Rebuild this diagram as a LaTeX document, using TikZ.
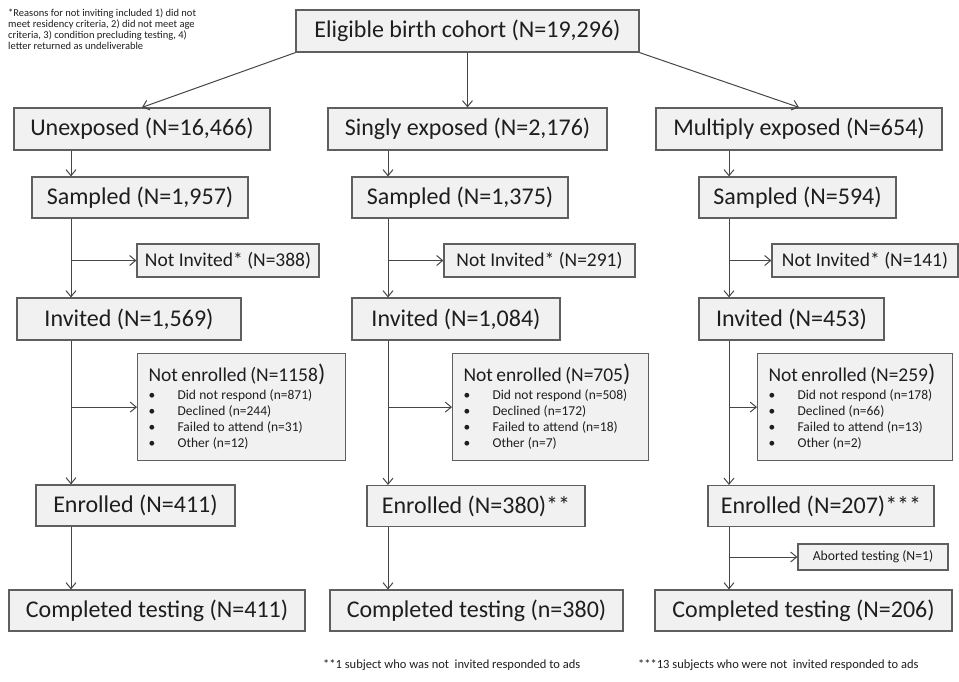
\documentclass[tikz,border=0pt]{standalone}
\usepackage{fontspec}
\setmainfont{Carlito}
\usepackage{xcolor}
\definecolor{boxfill}{RGB}{241,241,241}
\definecolor{boxline}{RGB}{95,95,95}
\definecolor{flowline}{RGB}{70,70,70}
\definecolor{inktext}{RGB}{30,30,30}
\usetikzlibrary{arrows.meta}
\setlength{\parindent}{0pt}
\newcommand{\bigparen}{{\fontsize{24}{24}\selectfont )}}
\newcommand{\enrolllist}[5]{%
  {\fontsize{19.5}{22}\selectfont Not enrolled (N=#1\bigparen\par}\vspace{2pt}
  {\fontsize{13.5}{16}\selectfont
   \makebox[29pt][l]{\textbullet}Did not respond (n=#2)\\
   \makebox[29pt][l]{\textbullet}Declined (n=#3)\\
   \makebox[29pt][l]{\textbullet}Failed to attend (n=#4)\\
   \makebox[29pt][l]{\textbullet}Other (n=#5)\par}}

\begin{document}
\begin{tikzpicture}[
  x=1pt, y=-1pt,
  box/.style={rectangle, draw=boxline, fill=boxfill, line width=1.2pt, text=inktext,
              inner sep=0pt, minimum height=42pt, font=\fontsize{24}{28}\selectfont},
  sidebox/.style={box, minimum height=33pt, font=\fontsize{19.5}{22}\selectfont},
  listbox/.style={rectangle, draw=boxline, fill=boxfill, line width=1.2pt, text=inktext,
              anchor=north west, minimum height=107pt, inner xsep=11pt, inner ysep=0pt,
              align=left},
  flow/.style={-{Straight Barb[length=6pt, width=10pt]}, draw=flowline, line width=1pt},
  note/.style={text=inktext, inner sep=0pt, align=left}
]
  \useasboundingbox (0,0) rectangle (959,681);

  % Cohort and exposure groups
  \node[box, minimum width=343pt] (cohort) at (467.5,31) {Eligible birth cohort (N=19,296)};
  \node[box, minimum width=256pt] (unexp)  at (142,129)   {Unexposed (N=16,466)};
  \node[box, minimum width=279pt] (single) at (467.5,129) {Singly exposed (N=2,176)};
  \node[box, minimum width=286pt] (multi)  at (799,129)   {Multiply exposed (N=654)};

  % Sampled
  \node[box, minimum width=216pt, minimum height=41pt] (samp1) at (140,197.5)   {Sampled (N=1,957)};
  \node[box, minimum width=216pt, minimum height=41pt] (samp2) at (460,197.5)   {Sampled (N=1,375)};
  \node[box, minimum width=197pt, minimum height=41pt] (samp3) at (797.5,197.5) {Sampled (N=594)};

  % Not invited
  \node[sidebox, minimum width=182pt] (ninv1) at (228,260.5)   {Not Invited* (N=388)};
  \node[sidebox, minimum width=191pt] (ninv2) at (539.5,260.5) {Not Invited* (N=291)};
  \node[sidebox, minimum width=186pt] (ninv3) at (865,260.5)   {Not Invited* (N=141)};

  % Invited
  \node[box, minimum width=224pt] (inv1) at (129,319)   {Invited (N=1,569)};
  \node[box, minimum width=208pt] (inv2) at (456,319)   {Invited (N=1,084)};
  \node[box, minimum width=185pt] (inv3) at (791.5,319) {Invited (N=453)};

  % Not enrolled
  \node[listbox, text width=186pt] (nenr1) at (137,353) {\enrolllist{1158}{871}{244}{31}{12}};
  \node[listbox, text width=174pt] (nenr2) at (452,353) {\enrolllist{705}{508}{172}{18}{7}};
  \node[listbox, text width=173pt] (nenr3) at (757,353) {\enrolllist{259}{178}{66}{13}{2}};

  % Enrolled
  \node[box, minimum width=199pt, minimum height=41pt] (enr1) at (135.5,505.5) {Enrolled (N=411)};
  \node[box, minimum width=218pt, minimum height=41pt] (enr2) at (476,506)     {Enrolled (N=380)**};
  \node[box, minimum width=226pt, minimum height=41pt] (enr3) at (821,506)     {Enrolled (N=207)***};
  \node[sidebox, minimum width=150pt, minimum height=26pt, font=\fontsize{13.7}{16}\selectfont]
    (abort) at (873,557) {Aborted testing (N=1)};

  % Completed
  \node[box, minimum width=296pt, minimum height=41pt] (comp1) at (157,610.5)   {Completed testing (N=411)};
  \node[box, minimum width=293pt, minimum height=41pt] (comp2) at (476.5,610.5) {Completed testing (n=380)};
  \node[box, minimum width=297pt, minimum height=41pt] (comp3) at (803.5,610.5) {Completed testing (N=206)};

  % Column lines
  \coordinate (col1) at (71,0);
  \coordinate (col2) at (388,0);
  \coordinate (col3) at (729,0);

  % Split of the cohort
  \draw[flow] (cohort.south west) -- (unexp.north);
  \draw[flow] (cohort.south) -- (single.north);
  \draw[flow] (cohort.south east) -- (multi.north);

  % Unexposed
  \draw[flow] (unexp.south -| col1) -- (samp1.north -| col1);
  \draw[flow] (samp1.south -| col1) -- (inv1.north -| col1);
  \draw[flow] (ninv1.west -| col1) -- (ninv1.west);
  \draw[flow] (inv1.south -| col1) -- (enr1.north -| col1);
  \draw[flow] (nenr1.west -| col1) -- (nenr1.west);
  \draw[flow] (enr1.south -| col1) -- (comp1.north -| col1);

  % Singly exposed
  \draw[flow] (single.south -| col2) -- (samp2.north -| col2);
  \draw[flow] (samp2.south -| col2) -- (inv2.north -| col2);
  \draw[flow] (ninv2.west -| col2) -- (ninv2.west);
  \draw[flow] (inv2.south -| col2) -- (enr2.north -| col2);
  \draw[flow] (nenr2.west -| col2) -- (nenr2.west);
  \draw[flow] (enr2.south -| col2) -- (comp2.north -| col2);

  % Multiply exposed
  \draw[flow] (multi.south -| col3) -- (samp3.north -| col3);
  \draw[flow] (samp3.south -| col3) -- (inv3.north -| col3);
  \draw[flow] (ninv3.west -| col3) -- (ninv3.west);
  \draw[flow] (inv3.south -| col3) -- (enr3.north -| col3);
  \draw[flow] (nenr3.west -| col3) -- (nenr3.west);
  \draw[flow] (enr3.south -| col3) -- (comp3.north -| col3);
  \draw[flow] (abort.west -| col3) -- (abort.west);

  % Footnotes
  \node[note, anchor=north west, font=\fontsize{10.5}{11}\selectfont] (reasons) at (8,9)
    {*Reasons for not inviting included 1) did not\\meet residency criteria, 2) did not meet age\\criteria, 3) condition precluding testing, 4)\\letter returned as undeliverable};
  \node[note, anchor=west, font=\fontsize{12.5}{14}\selectfont] (singlenote) at (323,665)
    {**1 subject who was not~ invited responded to ads};
  \node[note, anchor=west, font=\fontsize{12.5}{14}\selectfont] (multinote) at (638,665)
    {***13 subjects who were not~ invited responded to ads};
\end{tikzpicture}
\end{document}
